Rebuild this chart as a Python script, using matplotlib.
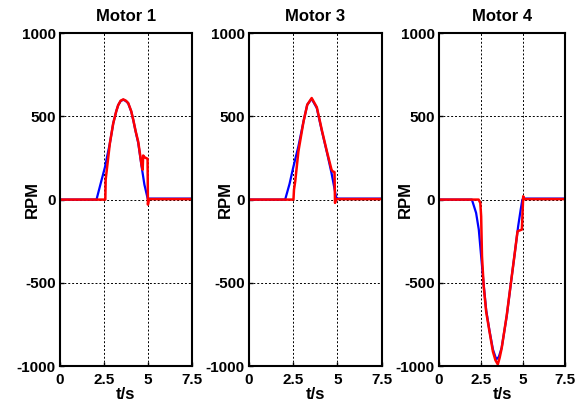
import numpy as np
import matplotlib
matplotlib.use('Agg')
from matplotlib import pyplot as plt

plt.rcParams['font.family'] = ['Liberation Sans', 'DejaVu Sans']
plt.rcParams['font.weight'] = 'bold'
plt.rcParams['axes.unicode_minus'] = False

titles = ['Motor 1', 'Motor 3', 'Motor 4']

# Motor 1
t1_ref = [0, 2.08, 2.3, 2.56, 2.84, 3.03, 3.2, 3.31, 3.45, 3.6, 3.75, 3.88, 4.05, 4.17, 4.3, 4.45, 4.64, 4.8, 5.0, 5.05, 7.5]
m1_ref = [0, 0, 90, 195, 339, 458, 530, 567, 592, 600, 592, 578, 530, 477, 410, 340, 200, 90, 0, 6, 6]
t1_act = [0, 2.58, 2.6, 2.84, 3.03, 3.2, 3.31, 3.45, 3.6, 3.75, 3.88, 4.05, 4.17, 4.3, 4.45, 4.64, 4.7, 4.73, 4.8, 4.98, 5.0, 5.05, 7.5]
m1_act = [0, 0, 120, 339, 458, 530, 567, 594, 602, 594, 580, 532, 478, 412, 347, 207, 180, 265, 255, 245, -30, 3, 3]

# Motor 3
t3_ref = [0, 2.05, 2.3, 2.5, 2.8, 3.09, 3.3, 3.55, 3.84, 4.13, 4.42, 4.67, 4.85, 4.96, 5.0, 7.5]
m3_ref = [0, 0, 95, 190, 320, 470, 570, 605, 550, 410, 280, 160, 60, 0, 6, 6]
t3_act = [0, 2.52, 2.55, 2.62, 2.8, 3.09, 3.3, 3.55, 3.84, 4.13, 4.42, 4.67, 4.73, 4.84, 4.87, 4.92, 7.5]
m3_act = [0, 0, 60, 110, 290, 470, 570, 610, 555, 415, 285, 180, 170, 165, -20, 3, 3]

# Motor 4
t4_ref = [0, 1.95, 2.2, 2.36, 2.5, 2.65, 2.8, 3.0, 3.2, 3.4, 3.55, 3.72, 4.02, 4.27, 4.5, 4.7, 4.85, 4.95, 5.0, 7.5]
m4_ref = [0, 0, -80, -180, -340, -510, -665, -790, -900, -960, -945, -890, -700, -500, -320, -160, -60, 0, 6, 6]
t4_act = [0, 2.35, 2.45, 2.5, 2.55, 2.65, 2.8, 3.0, 3.2, 3.35, 3.49, 3.6, 3.72, 4.02, 4.27, 4.5, 4.65, 4.67, 4.92, 5.0, 5.05, 7.5]
m4_act = [0, 0, -20, -100, -340, -518, -675, -795, -913, -965, -990, -950, -893, -696, -500, -320, -200, -190, -180, 20, 3, 3]

data = [(t1_ref, m1_ref, t1_act, m1_act),
        (t3_ref, m3_ref, t3_act, m3_act),
        (t4_ref, m4_ref, t4_act, m4_act)]

fig = plt.figure(figsize=(5.87, 4.09), dpi=100)
rects = [[0.102, 0.105, 0.225, 0.814],
         [0.424, 0.105, 0.226, 0.814],
         [0.748, 0.105, 0.215, 0.814]]
ylab_x = [-0.15, -0.12, -0.21]

for i in range(3):
    ax = fig.add_axes(rects[i])
    tr, mr, ta, ma = data[i]
    ax.plot(tr, mr, color='#0000ff', lw=1.6)
    ax.plot(ta, ma, color='#ff0000', lw=1.8)
    ax.set_xlim(0, 7.5)
    ax.set_ylim(-1000, 1000)
    ax.set_xticks([0, 2.5, 5, 7.5])
    ax.set_xticklabels(['0', '2.5', '5', '7.5'])
    ax.set_yticks([-1000, -500, 0, 500, 1000])
    ax.grid(True, color='black', linestyle=(0, (2, 2)), lw=0.7)
    ax.tick_params(direction='in', length=3, width=1, labelsize=11)
    ax.tick_params(axis='x', pad=5)
    ax.tick_params(axis='y', pad=3)
    for s in ax.spines.values():
        s.set_linewidth(1.5)
    ax.set_title(titles[i], fontsize=12, fontweight='bold', pad=9)
    ax.set_xlabel('t/s', fontsize=12, fontweight='bold', labelpad=0)
    ax.set_ylabel('RPM', fontsize=12, fontweight='bold')
    ax.yaxis.set_label_coords(ylab_x[i], 0.5)

plt.savefig('out.png', dpi=100)
